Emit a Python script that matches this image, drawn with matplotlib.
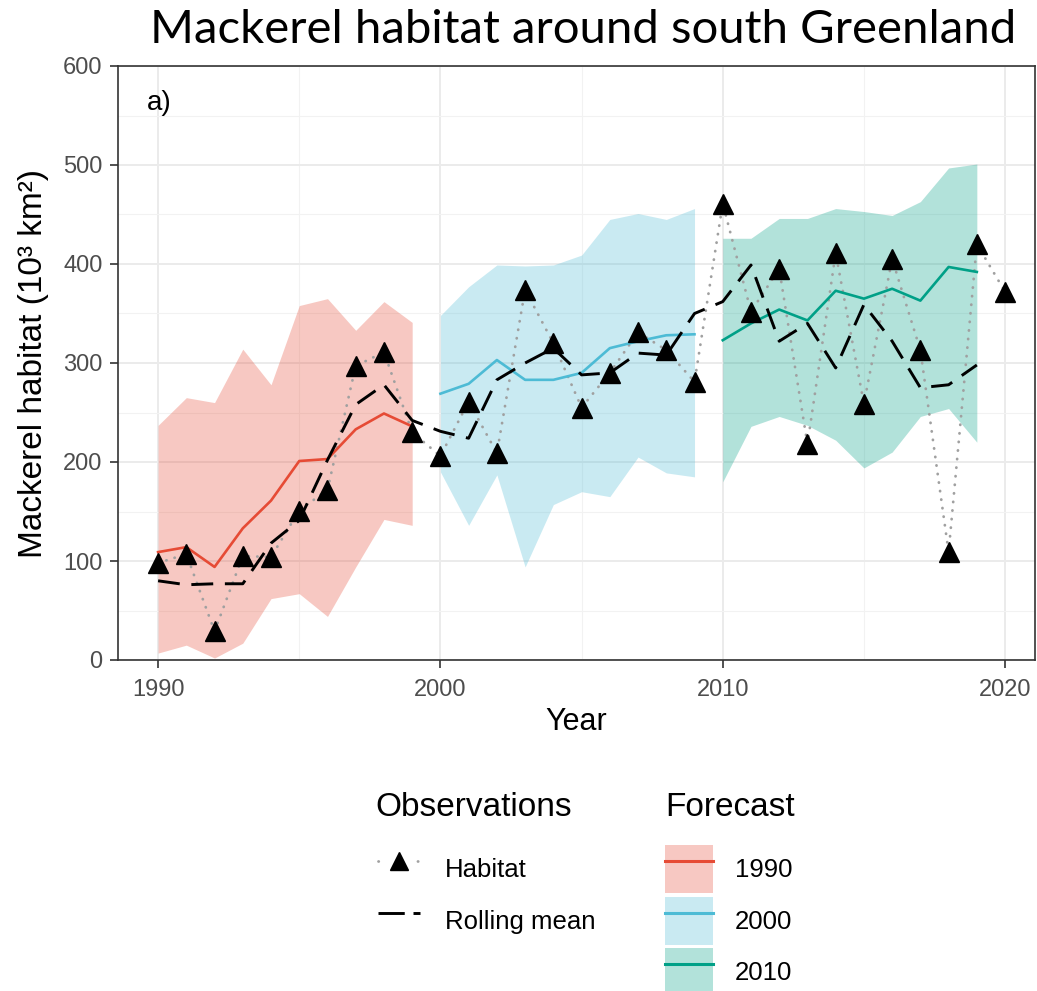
import matplotlib
matplotlib.use("Agg")
import matplotlib.pyplot as plt
from matplotlib.lines import Line2D
from matplotlib.patches import Patch
from matplotlib.ticker import MultipleLocator
import numpy as np

# ---------------- data ----------------
habitat_years = list(range(1990, 2021))
habitat = [98, 107, 29, 105, 104, 151, 172, 297, 311, 230,
           206, 261, 209, 374, 320, 255, 290, 331, 313, 281,
           461, 352, 395, 218, 411, 259, 405, 313, 109, 420, 372]

rolling_years = list(range(1990, 2020))
rolling_mean = [80, 76, 77, 77, 118, 141, 202, 258, 278, 242,
                231, 224, 283, 300, 315, 288, 290, 310, 308, 350,
                362, 399, 322, 340, 295, 359, 322, 275, 278, 298]

fc_labels = ["1990", "2000", "2010"]
fc_colors = ["#E64B35", "#4DBBD5", "#00A087"]
fc_years = [list(range(1990, 2000)), list(range(2000, 2010)), list(range(2010, 2020))]
fc_mean = [
    [109, 114, 94, 133, 161, 201, 203, 233, 249, 236],
    [269, 279, 303, 283, 283, 290, 315, 322, 328, 329],
    [323, 340, 354, 343, 373, 365, 375, 363, 397, 392],
]
fc_upper = [
    [237, 265, 260, 314, 278, 358, 365, 333, 362, 341],
    [348, 377, 399, 398, 399, 409, 445, 451, 445, 456],
    [426, 426, 446, 446, 456, 453, 449, 463, 497, 501],
]
fc_lower = [
    [7, 15, 2, 17, 62, 67, 44, 94, 142, 136],
    [190, 136, 187, 94, 157, 170, 165, 205, 189, 185],
    [180, 236, 246, 237, 222, 194, 210, 246, 254, 220],
]

title = "Mackerel habitat around south Greenland"
xlabel = "Year"
ylabel = "Mackerel habitat (10³ km²)"
panel_tag = "a)"
obs_title = "Observations"
fc_title = "Forecast"
obs_labels = ["Habitat", "Rolling mean"]

# ---------------- figure ----------------
W, H = 1037, 991
fig = plt.figure(figsize=(W / 100, H / 100), dpi=100)
ax = fig.add_axes([118 / W, 1 - 660 / H, (1035 - 118) / W, (660 - 66) / H])

sans = ["Liberation Sans", "DejaVu Sans"]

for yrs, lo, hi, mu, col in zip(fc_years, fc_lower, fc_upper, fc_mean, fc_colors):
    ax.fill_between(yrs, lo, hi, color=col, alpha=0.3, linewidth=0, zorder=1)
    ax.plot(yrs, mu, color=col, lw=1.9, zorder=3)

dot_style = (0, (0.1, 3.0))
dash_style = (0, (7.5, 4))
ax.plot(habitat_years, habitat, color="#a0a0a0", lw=2.0, ls=dot_style,
        dash_capstyle="round", zorder=2)
ax.plot(rolling_years, rolling_mean, color="black", lw=2.1, ls=dash_style, zorder=4)
ax.plot(habitat_years, habitat, ls="none", marker="^", ms=14, color="black", zorder=5)

ax.set_xlim(1988.58, 2021.06)
ax.set_ylim(0, 600)
ax.xaxis.set_major_locator(MultipleLocator(10))
ax.xaxis.set_minor_locator(MultipleLocator(5))
ax.yaxis.set_major_locator(MultipleLocator(100))
ax.yaxis.set_minor_locator(MultipleLocator(50))
ax.grid(which="major", color="#EBEBEB", lw=1.4, zorder=0)
ax.grid(which="minor", color="#F2F2F2", lw=0.8, zorder=0)
ax.set_axisbelow(True)
for s in ax.spines.values():
    s.set_color("#333333")
    s.set_linewidth(1.2)
ax.tick_params(which="major", length=6, width=1.2, color="#333333",
               labelsize=17, labelcolor="#4D4D4D", pad=5)
ax.tick_params(axis="x", which="major", pad=8)
ax.tick_params(which="minor", length=0)
for lab in ax.get_xticklabels() + ax.get_yticklabels():
    lab.set_family(sans)

ax.set_xlabel(xlabel, fontsize=22, family=sans, labelpad=4)
ax.set_ylabel(ylabel, fontsize=24, family=sans, labelpad=10)
ax.text(0.032, 0.938, panel_tag, transform=ax.transAxes, fontsize=20,
        family=sans, va="center", ha="left")

fig.text(583 / W, 1 - 30 / H, title, fontsize=34, family=["Lato", "DejaVu Sans"],
         ha="center", va="center")

# ---------------- legends ----------------
fig.text(375 / W, 1 - 808 / H, obs_title, fontsize=24, family=sans,
         ha="left", va="center")
fig.text(665 / W, 1 - 808 / H, fc_title, fontsize=24, family=sans,
         ha="left", va="center")

obs_handles = [
    Line2D([], [], color="#a0a0a0", lw=2.0, ls=(0, (0.1, 7.0)), dash_capstyle="round",
           marker="^", ms=13, markerfacecolor="black", markeredgecolor="black"),
    Line2D([], [], color="black", lw=2.1, ls=(0, (9.0, 3.0))),
]
fc_handles = [(Patch(facecolor=c, alpha=0.3, lw=0), Line2D([], [], color=c, lw=2.2))
              for c in fc_colors]

fs = 18.5
fs_px = fs * 100 / 72
common = dict(frameon=False, handleheight=2.5, labelspacing=0.14,
              borderpad=0, borderaxespad=0,
              prop={"family": sans, "size": fs})
leg1 = fig.legend(obs_handles, obs_labels, loc="upper left",
                  handlelength=42 / fs_px, handletextpad=25 / fs_px,
                  bbox_to_anchor=(378 / W, 1 - 845 / H), **common)
leg2 = fig.legend(fc_handles, fc_labels, loc="upper left",
                  handlelength=48 / fs_px, handletextpad=22 / fs_px,
                  bbox_to_anchor=(665 / W, 1 - 845 / H), **common)

fig.savefig("out.png", dpi=100)
